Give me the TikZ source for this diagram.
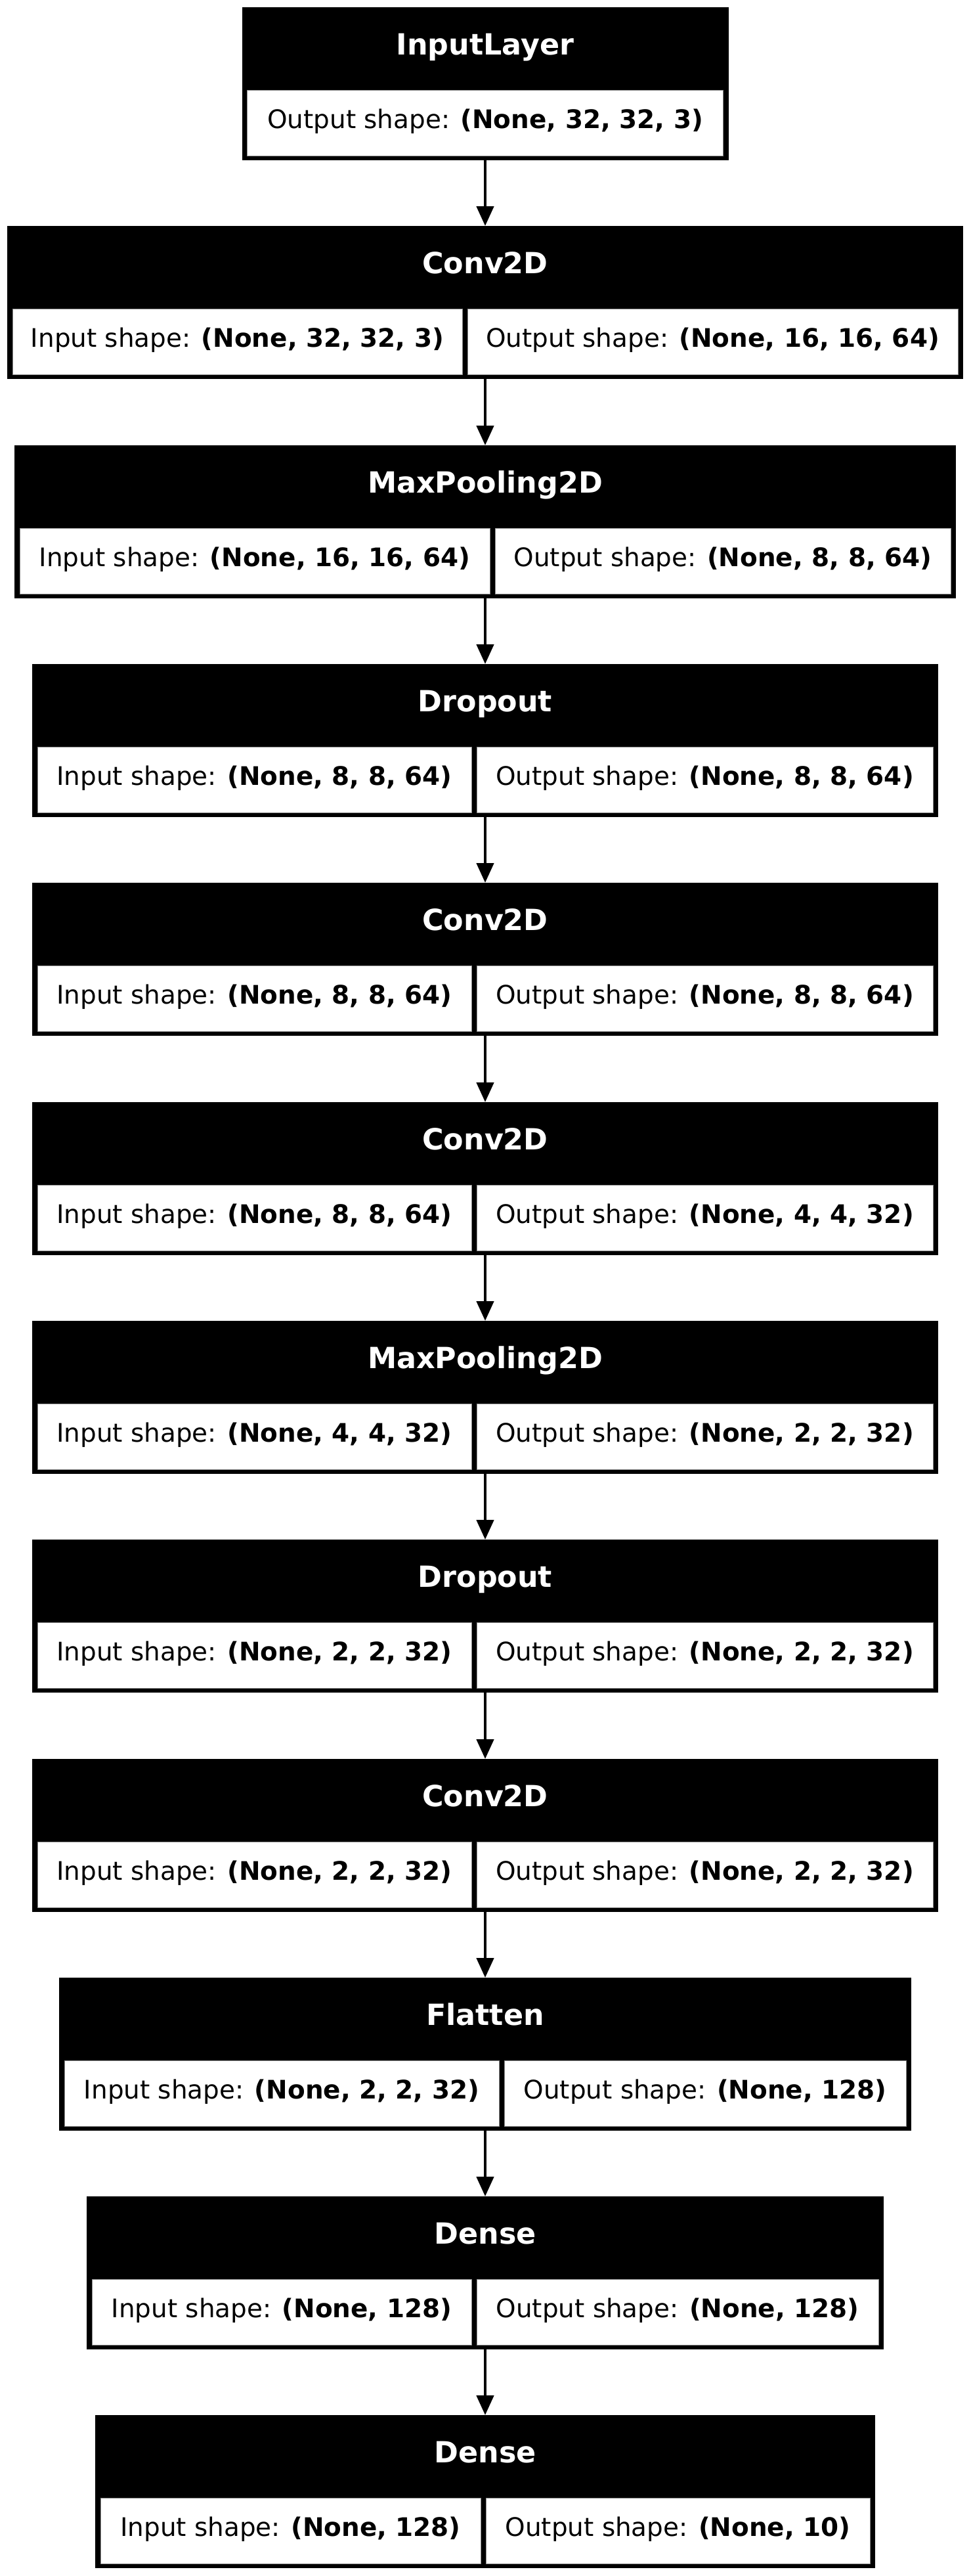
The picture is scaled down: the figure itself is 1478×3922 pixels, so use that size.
\documentclass[tikz,border=0pt]{standalone}
\usepackage{fontspec}
\setmainfont{DejaVu Sans}
\usetikzlibrary{arrows.meta}
\newcommand{\fsz}{\fontsize{38.9pt}{46pt}\selectfont}
\newcommand{\hfsz}{\fontsize{44.4pt}{52pt}\selectfont}
\tikzset{
  outerbox/.style={rectangle, fill=black, minimum height=233, inner sep=0, outer sep=0},
  headbox/.style={rectangle, fill=black, minimum height=126, inner sep=0, outer sep=0,
    text=white, font=\hfsz\bfseries, text height=28pt, text depth=10pt},
  cellbox/.style={rectangle, fill=white, draw=black!45, line width=1pt, minimum height=100,
    inner sep=0, outer sep=0, font=\fsz, text height=28pt, text depth=12pt},
  flow/.style={line width=4.6pt, -{Triangle[length=30pt,width=26pt]}}
}
% #1 name, #2 top, #3 half width, #4 divider x, #5 title, #6 input, #7 output
\newcommand{\twocell}[7]{%
  \node[outerbox, minimum width={2*#3}] (#1) at (739, #2+116.5) {};
  \node[headbox, minimum width={2*#3}, anchor=north] (#1h) at (739, #2) {#5};
  \node[cellbox, anchor=north west, minimum width={(#4-4)-(739-#3+8)}] (#1i) at (739-#3+8, #2+126) {Input shape: \textbf{#6}};
  \node[cellbox, anchor=north east, minimum width={(739+#3-8)-(#4+4)}] (#1o) at (739+#3-8, #2+126) {Output shape: \textbf{#7}};
}
\begin{document}
\begin{tikzpicture}[x=1pt, y=-1pt]
\fill[white] (0,0) rectangle (1478,3922);
\useasboundingbox (0,0) rectangle (1478,3922);
% InputLayer
\node[outerbox, minimum width=741] (L1) at (739, 11+116.5) {};
\node[headbox, minimum width=741, anchor=north] (L1h) at (739, 11) {InputLayer};
\node[cellbox, anchor=north, minimum width=725] (L1o) at (739, 11+126) {Output shape: \textbf{(None, 32, 32, 3)}};
\twocell{L2}{344}{728}{708}{Conv2D}{(None, 32, 32, 3)}{(None, 16, 16, 64)}
\twocell{L3}{678}{717}{750}{MaxPooling2D}{(None, 16, 16, 64)}{(None, 8, 8, 64)}
\twocell{L4}{1011}{690}{722}{Dropout}{(None, 8, 8, 64)}{(None, 8, 8, 64)}
\twocell{L5}{1344}{690}{722}{Conv2D}{(None, 8, 8, 64)}{(None, 8, 8, 64)}
\twocell{L6}{1678}{690}{722}{Conv2D}{(None, 8, 8, 64)}{(None, 4, 4, 32)}
\twocell{L7}{2011}{690}{722}{MaxPooling2D}{(None, 4, 4, 32)}{(None, 2, 2, 32)}
\twocell{L8}{2344}{690}{722}{Dropout}{(None, 2, 2, 32)}{(None, 2, 2, 32)}
\twocell{L9}{2678}{690}{722}{Conv2D}{(None, 2, 2, 32)}{(None, 2, 2, 32)}
\twocell{L10}{3011}{649}{764}{Flatten}{(None, 2, 2, 32)}{(None, 128)}
\twocell{L11}{3344}{607}{722}{Dense}{(None, 128)}{(None, 128)}
\twocell{L12}{3677}{594}{736}{Dense}{(None, 128)}{(None, 10)}
% connectors
\foreach \a/\b in {L1/L2, L2/L3, L3/L4, L4/L5, L5/L6, L6/L7, L7/L8, L8/L9, L9/L10, L10/L11, L11/L12}
  \draw[flow] (\a.south) -- (\b.north);
\end{tikzpicture}
\end{document}
